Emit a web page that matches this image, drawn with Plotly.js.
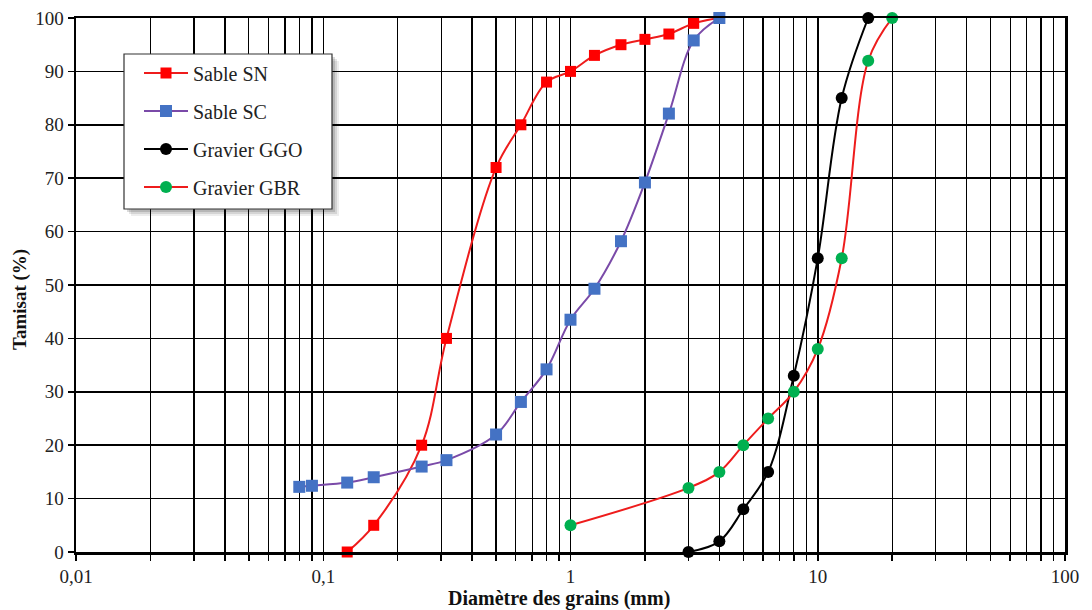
<!DOCTYPE html>
<html>
<head>
<meta charset="utf-8">
<script src="https://cdn.plot.ly/plotly-3.0.1.min.js"></script>
<style>
  html, body { margin: 0; padding: 0; background: #ffffff; }
  #chart { width: 1092px; height: 610px; }
</style>
</head>
<body>
<div id="chart"></div>
<script>
// Courbes granulométriques : tamisat cumulé (%) en fonction du diamètre des grains (mm)

const sableSN_d = [0.125, 0.16, 0.25, 0.315, 0.5, 0.63, 0.8, 1, 1.25, 1.6, 2, 2.5, 3.15, 4];
const sableSN_t = [0, 5, 20, 40, 72, 80, 88, 90, 93, 95, 96, 97, 99, 100];

const sableSC_d = [0.08, 0.09, 0.125, 0.16, 0.25, 0.315, 0.5, 0.63, 0.8, 1, 1.25, 1.6, 2, 2.5, 3.15, 4];
const sableSC_t = [12.2, 12.4, 13, 14, 16, 17.2, 22, 28.1, 34.2, 43.5, 49.3, 58.2, 69.2, 82.1, 95.8, 100];

const gravierGGO_d = [3, 4, 5, 6.3, 8, 10, 12.5, 16];
const gravierGGO_t = [0, 2, 8, 15, 33, 55, 85, 100];

const gravierGBR_d = [1, 3, 4, 5, 6.3, 8, 10, 12.5, 16, 20];
const gravierGBR_t = [5, 12, 15, 20, 25, 30, 38, 55, 92, 100];

const seriesNames = ['Sable SN', 'Sable SC', 'Gravier GGO', 'Gravier GBR'];

const xTickVals = [0.01, 0.1, 1, 10, 100];
const xTickText = ['0,01', '0,1', '1', '10', '100'];
const yTickVals = [0, 10, 20, 30, 40, 50, 60, 70, 80, 90, 100];

const xTitle = 'Diamètre des grains (mm)';
const yTitle = 'Tamisat (%)';

// intermediate log positions (2..9 x each decade) for the minor grid
const minorVals = [];
[0.01, 0.1, 1, 10].forEach(function (dec) {
  for (let k = 2; k <= 9; k++) minorVals.push(+(k * dec).toPrecision(3));
});

const serif = 'Liberation Serif, Times New Roman, serif';

function curve(name, xs, ys, lineColor, markerColor, symbol, size, group) {
  return {
    type: 'scatter',
    mode: 'lines+markers',
    name: name,
    legendgroup: group,
    x: xs,
    y: ys,
    line: { color: lineColor, width: 2, shape: 'spline', smoothing: 1 },
    marker: { color: markerColor, symbol: symbol, size: size, line: { width: 0 } },
    cliponaxis: false
  };
}

const traces = [
  curve(seriesNames[0], sableSN_d, sableSN_t, '#ee1c1c', '#ff0000', 'square', 11, 'g1'),
  curve(seriesNames[1], sableSC_d, sableSC_t, '#7a4aa8', '#4472c4', 'square', 12, 'g2'),
  curve(seriesNames[2], gravierGGO_d, gravierGGO_t, '#000000', '#000000', 'circle', 12, 'g3'),
  curve(seriesNames[3], gravierGBR_d, gravierGBR_t, '#ee1c1c', '#00b050', 'circle', 12, 'g4')
];

const margin = { l: 76, r: 27, t: 18, b: 58 };
const plotW = 1092 - margin.l - margin.r;
const plotH = 610 - margin.t - margin.b;
function px(x) { return (x - margin.l) / plotW; }
function py(y) { return (610 - margin.b - y) / plotH; }

// legend frame (white box with a soft shadow)
const box = { x0: 124, x1: 332, y0: 54, y1: 209 };
const legendShapes = [
  { off: 7, fill: 'rgba(0,0,0,0.07)' },
  { off: 5, fill: 'rgba(0,0,0,0.10)' },
  { off: 3, fill: 'rgba(0,0,0,0.14)' }
].map(function (s) {
  return { type: 'rect', xref: 'paper', yref: 'paper', layer: 'above',
    x0: px(box.x0 + s.off), x1: px(box.x1 + s.off),
    y0: py(box.y1 + s.off), y1: py(box.y0 + s.off),
    line: { width: 0 }, fillcolor: s.fill };
});
legendShapes.push({ type: 'rect', xref: 'paper', yref: 'paper', layer: 'above',
  x0: px(box.x0), x1: px(box.x1), y0: py(box.y1), y1: py(box.y0),
  line: { width: 1.2, color: '#333333' }, fillcolor: '#ffffff' });

const layout = {
  width: 1092,
  height: 610,
  margin: margin,
  paper_bgcolor: '#ffffff',
  plot_bgcolor: '#ffffff',
  font: { family: serif, color: '#222222', size: 16 },
  showlegend: true,
  legend: {
    x: px(139), y: py(53.5), xanchor: 'left', yanchor: 'top',
    bgcolor: 'rgba(0,0,0,0)',
    borderwidth: 0,
    font: { family: serif, size: 20, color: '#222222' },
    traceorder: 'grouped',
    tracegroupgap: 9,
    itemwidth: 44
  },
  xaxis: {
    type: 'log',
    range: [-2, 2],
    tickmode: 'array',
    tickvals: xTickVals,
    ticktext: xTickText,
    ticks: 'outside',
    ticklen: 6,
    tickwidth: 1.5,
    tickcolor: '#000000',
    showgrid: true,
    gridcolor: '#000000',
    gridwidth: 1.5,
    showline: true,
    linecolor: '#000000',
    linewidth: 2.5,
    mirror: true,
    zeroline: false,
    tickfont: { family: serif, size: 19, color: '#222222' },
    minor: {
      tickmode: 'array',
      tickvals: minorVals,
      ticks: 'outside',
      ticklen: 6,
      tickwidth: 1.5,
      tickcolor: '#000000',
      showgrid: true,
      gridcolor: '#000000',
      gridwidth: 1.3
    }
  },
  yaxis: {
    range: [0, 100],
    tickmode: 'array',
    tickvals: yTickVals,
    ticks: 'outside',
    ticklen: 6,
    tickwidth: 1.5,
    tickcolor: '#000000',
    showgrid: true,
    gridcolor: '#000000',
    gridwidth: 1.5,
    showline: true,
    linecolor: '#000000',
    linewidth: 2.5,
    mirror: true,
    zeroline: false,
    tickfont: { family: serif, size: 19, color: '#222222' }
  },
  annotations: [
    { text: '<b>' + xTitle + '</b>', xref: 'paper', yref: 'paper',
      x: px(559), y: py(598), xanchor: 'center', yanchor: 'middle', showarrow: false,
      font: { family: serif, size: 20, color: '#111111' } },
    { text: '<b>' + yTitle + '</b>', xref: 'paper', yref: 'paper', textangle: -90,
      x: px(20), y: py(300), xanchor: 'center', yanchor: 'middle', showarrow: false,
      font: { family: serif, size: 19, color: '#111111' } }
  ],
  shapes: legendShapes
};

Plotly.newPlot('chart', traces, layout, { displayModeBar: false, staticPlot: true });
</script>
</body>
</html>
